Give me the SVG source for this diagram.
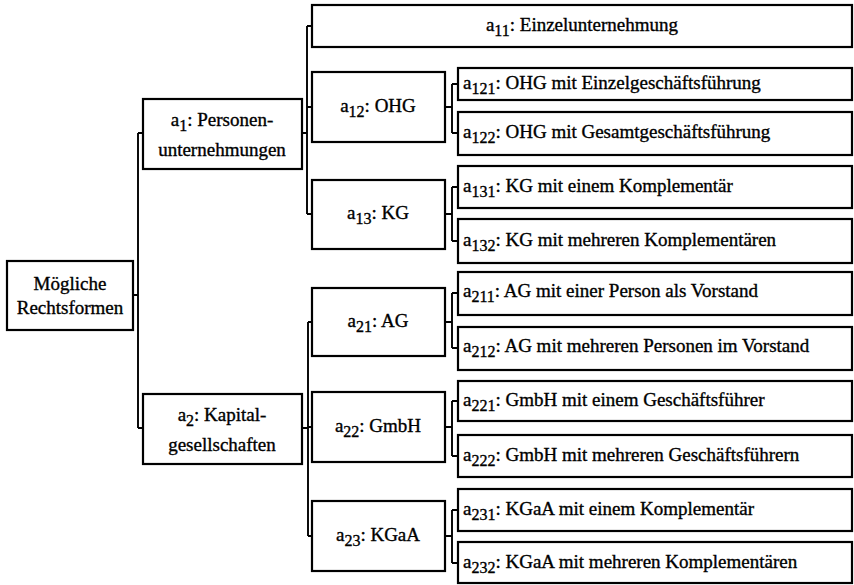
<svg xmlns="http://www.w3.org/2000/svg" width="854" height="585" viewBox="0 0 854 585">
  <style>
    .box { fill: #fff; stroke: #000; stroke-width: 2.2; }
    .lbl { font-family: "Liberation Serif", "Times New Roman", serif; font-size: 19px; fill: #000; stroke: #000; stroke-width: 0.35; }
    .c { text-anchor: middle; }
    .sub { font-size: 16px; }
    #connectors path { fill: none; stroke: #000; stroke-width: 1.9; }
  </style>
  <rect width="854" height="585" fill="#fff"/>

  <!-- tree connectors -->
  <g id="connectors">
    <path d="M133 295 H138 M138 133 V428 M138 133 H143 M138 428 H143"/>
    <path d="M302 133 H307 M307 26 V214 M307 26 H312 M307 107 H312 M307 214 H312"/>
    <path d="M302 428 H308 M308 322 V536 M308 322 H312 M308 427 H312 M308 536 H312"/>
    <path d="M445 107 H452 M452 84 V133 M452 84 H458 M452 133 H458"/>
    <path d="M445 214 H452 M452 187 V241 M452 187 H458 M452 241 H458"/>
    <path d="M445 322 H452 M452 293 V348 M452 293 H458 M452 348 H458"/>
    <path d="M445 427 H452 M452 401 V456 M452 401 H458 M452 456 H458"/>
    <path d="M445 536 H452 M452 510 V563 M452 510 H458 M452 563 H458"/>
  </g>

  <!-- root -->
  <g id="root">
    <rect class="box" x="7" y="261" width="126" height="69"/>
    <text class="lbl c" x="70" y="290">Mögliche</text>
    <text class="lbl c" x="70" y="314">Rechtsformen</text>
  </g>

  <!-- first level -->
  <g id="a1">
    <rect class="box" x="143" y="99" width="159" height="70"/>
    <text class="lbl c" x="222" y="126">a<tspan class="sub" dy="5">1</tspan><tspan dy="-5">: Personen-</tspan></text>
    <text class="lbl c" x="222" y="156">unternehmungen</text>
  </g>
  <g id="a2">
    <rect class="box" x="143" y="394" width="159" height="70"/>
    <text class="lbl c" x="222" y="421">a<tspan class="sub" dy="5">2</tspan><tspan dy="-5">: Kapital-</tspan></text>
    <text class="lbl c" x="222" y="451">gesellschaften</text>
  </g>

  <!-- second level -->
  <g id="a11">
    <rect class="box" x="312" y="5" width="540" height="42"/>
    <text class="lbl c" x="582" y="31">a<tspan class="sub" dy="5">11</tspan><tspan dy="-5">: Einzelunternehmung</tspan></text>
  </g>
  <g id="a12">
    <rect class="box" x="312" y="72" width="133" height="70"/>
    <text class="lbl c" x="378" y="112">a<tspan class="sub" dy="5">12</tspan><tspan dy="-5">: OHG</tspan></text>
  </g>
  <g id="a13">
    <rect class="box" x="312" y="180" width="133" height="69"/>
    <text class="lbl c" x="378" y="219">a<tspan class="sub" dy="5">13</tspan><tspan dy="-5">: KG</tspan></text>
  </g>
  <g id="a21">
    <rect class="box" x="312" y="288" width="133" height="68"/>
    <text class="lbl c" x="378" y="327">a<tspan class="sub" dy="5">21</tspan><tspan dy="-5">: AG</tspan></text>
  </g>
  <g id="a22">
    <rect class="box" x="312" y="392" width="133" height="70"/>
    <text class="lbl c" x="378" y="432">a<tspan class="sub" dy="5">22</tspan><tspan dy="-5">: GmbH</tspan></text>
  </g>
  <g id="a23">
    <rect class="box" x="312" y="501" width="133" height="70"/>
    <text class="lbl c" x="378" y="541">a<tspan class="sub" dy="5">23</tspan><tspan dy="-5">: KGaA</tspan></text>
  </g>

  <!-- third level -->
  <g id="a121">
    <rect class="box" x="458" y="68" width="394" height="32"/>
    <text class="lbl" x="463" y="89">a<tspan class="sub" dy="5">121</tspan><tspan dy="-5">: OHG mit Einzelgeschäftsführung</tspan></text>
  </g>
  <g id="a122">
    <rect class="box" x="458" y="112" width="394" height="43"/>
    <text class="lbl" x="463" y="138">a<tspan class="sub" dy="5">122</tspan><tspan dy="-5">: OHG mit Gesamtgeschäftsführung</tspan></text>
  </g>
  <g id="a131">
    <rect class="box" x="458" y="166" width="394" height="42"/>
    <text class="lbl" x="463" y="192">a<tspan class="sub" dy="5">131</tspan><tspan dy="-5">: KG mit einem Komplementär</tspan></text>
  </g>
  <g id="a132">
    <rect class="box" x="458" y="219" width="394" height="44"/>
    <text class="lbl" x="463" y="246">a<tspan class="sub" dy="5">132</tspan><tspan dy="-5">: KG mit mehreren Komplementären</tspan></text>
  </g>
  <g id="a211">
    <rect class="box" x="458" y="272" width="394" height="43"/>
    <text class="lbl" x="463" y="297">a<tspan class="sub" dy="5">211</tspan><tspan dy="-5">: AG mit einer Person als Vorstand</tspan></text>
  </g>
  <g id="a212">
    <rect class="box" x="458" y="327" width="394" height="43"/>
    <text class="lbl" x="463" y="352">a<tspan class="sub" dy="5">212</tspan><tspan dy="-5">: AG mit mehreren Personen im Vorstand</tspan></text>
  </g>
  <g id="a221">
    <rect class="box" x="458" y="381" width="394" height="40"/>
    <text class="lbl" x="463" y="406">a<tspan class="sub" dy="5">221</tspan><tspan dy="-5">: GmbH mit einem Geschäftsführer</tspan></text>
  </g>
  <g id="a222">
    <rect class="box" x="458" y="435" width="394" height="42"/>
    <text class="lbl" x="463" y="461">a<tspan class="sub" dy="5">222</tspan><tspan dy="-5">: GmbH mit mehreren Geschäftsführern</tspan></text>
  </g>
  <g id="a231">
    <rect class="box" x="458" y="489" width="394" height="42"/>
    <text class="lbl" x="463" y="515">a<tspan class="sub" dy="5">231</tspan><tspan dy="-5">: KGaA mit einem Komplementär</tspan></text>
  </g>
  <g id="a232">
    <rect class="box" x="458" y="542" width="394" height="41"/>
    <text class="lbl" x="463" y="568">a<tspan class="sub" dy="5">232</tspan><tspan dy="-5">: KGaA mit mehreren Komplementären</tspan></text>
  </g>
</svg>
